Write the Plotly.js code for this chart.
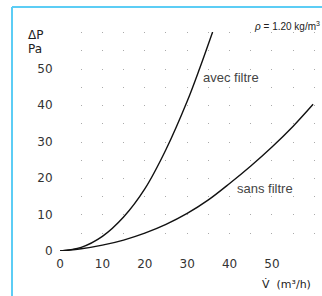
<!DOCTYPE html>
<html>
<head>
<meta charset="utf-8">
<script src="https://cdn.plot.ly/plotly-3.0.1.min.js"></script>
<style>
html,body{margin:0;padding:0;background:#fff;}
#chart{width:322px;height:296px;}
</style>
</head>
<body>
<div id="chart"></div>
<script>
// Data
const avecV = [0, 5, 10, 15, 20, 25, 30, 33, 36];
const avecP = [0, 1.0, 4.0, 9.3, 17.0, 27.8, 41.0, 50.2, 60];
const sansV = [0, 5, 10, 15, 20, 25, 30, 35, 40, 45, 50, 55, 59.7];
const sansP = [0, 0.6, 1.6, 3.0, 4.9, 7.3, 10.3, 14.0, 18.5, 23.3, 28.5, 34.2, 40.2];
const xTickVals = [0, 10, 20, 30, 40, 50];
const xTickText = ['0', '10', '20', '30', '40', '50'];
const yTickVals = [0, 10, 20, 30, 40, 50];
const yTickText = ['0', '10', '20', '30', '40', '50'];
const labelAvec = 'avec filtre';
const labelSans = 'sans filtre';

const tickFont = {family: 'DejaVu Sans', size: 12, color: '#333'};
const lineStyle = {color: '#111', width: 1.4, shape: 'spline', smoothing: 1};

const traces = [
  {x: avecV, y: avecP, mode: 'lines', line: lineStyle, hoverinfo: 'skip'},
  {x: sansV, y: sansP, mode: 'lines', line: lineStyle, hoverinfo: 'skip'}
];

const blue = '#5ccdf5';
const dotDash = '1px,17.25px';
const layout = {
  width: 322, height: 296,
  margin: {l: 60, r: 0, t: 32, b: 45, pad: 0},
  paper_bgcolor: '#fff', plot_bgcolor: '#fff',
  showlegend: false,
  xaxis: {
    range: [0, 61.8], tickvals: xTickVals, ticktext: xTickText,
    showgrid: true, gridcolor: '#aaa', gridwidth: 1, griddash: dotDash,
    minor: {dtick: 5, tick0: 5, showgrid: true, gridcolor: '#aaa', gridwidth: 1, griddash: dotDash, ticks: ''},
    zeroline: false, showline: false, ticks: 'outside', ticklen: 2,
    tickcolor: 'rgba(0,0,0,0)', tickfont: tickFont,
    fixedrange: true
  },
  yaxis: {
    range: [0, 60], tickvals: yTickVals, ticktext: yTickText,
    showgrid: false, zeroline: false, showline: false, ticks: 'outside',
    ticklen: 4, tickcolor: 'rgba(0,0,0,0)', tickfont: tickFont,
    fixedrange: true
  },
  shapes: [
    {type: 'line', xref: 'paper', yref: 'paper', x0: -0.18321, x1: -0.18321, y0: -0.21, y1: 1.11416,
     line: {color: blue, width: 2}},
    {type: 'line', xref: 'paper', yref: 'paper', x0: -0.18321, x1: 1.01, y0: 1.11416, y1: 1.11416,
     line: {color: blue, width: 2}}
  ],
  annotations: [
    {text: '\u0394P', xref: 'paper', yref: 'paper', x: -0.1298, y: 0.986, xanchor: 'left', yanchor: 'middle',
     showarrow: false, font: {family: 'DejaVu Sans', size: 12, color: '#222'}},
    {text: 'Pa', xref: 'paper', yref: 'paper', x: -0.1298, y: 0.922, xanchor: 'left', yanchor: 'middle',
     showarrow: false, font: {family: 'DejaVu Sans', size: 12, color: '#222'}},
    {text: '<i>\u03c1</i> = 1.20 kg/m<sup>3</sup>', xref: 'paper', yref: 'paper', x: 1.0, y: 1.027,
     xanchor: 'right', yanchor: 'middle', showarrow: false,
     font: {family: 'Liberation Sans', size: 10, color: '#222'}},
    {text: labelAvec, xref: 'x', yref: 'y', x: 33.2, y: 47.4, xanchor: 'left', yanchor: 'middle',
     showarrow: false, font: {family: 'Liberation Sans', size: 13, color: '#444'}},
    {text: labelSans, xref: 'x', yref: 'y', x: 41.2, y: 17, xanchor: 'left', yanchor: 'middle',
     showarrow: false, font: {family: 'Liberation Sans', size: 13, color: '#444'}},
    {text: 'V\u0307  (m\u00b3/h)', xref: 'paper', yref: 'paper', x: 0.765, y: -0.155,
     xanchor: 'left', yanchor: 'middle', showarrow: false,
     font: {family: 'DejaVu Sans', size: 11, color: '#222'}}
  ]
};

Plotly.newPlot('chart', traces, layout, {displayModeBar: false, staticPlot: true});
</script>
</body>
</html>
